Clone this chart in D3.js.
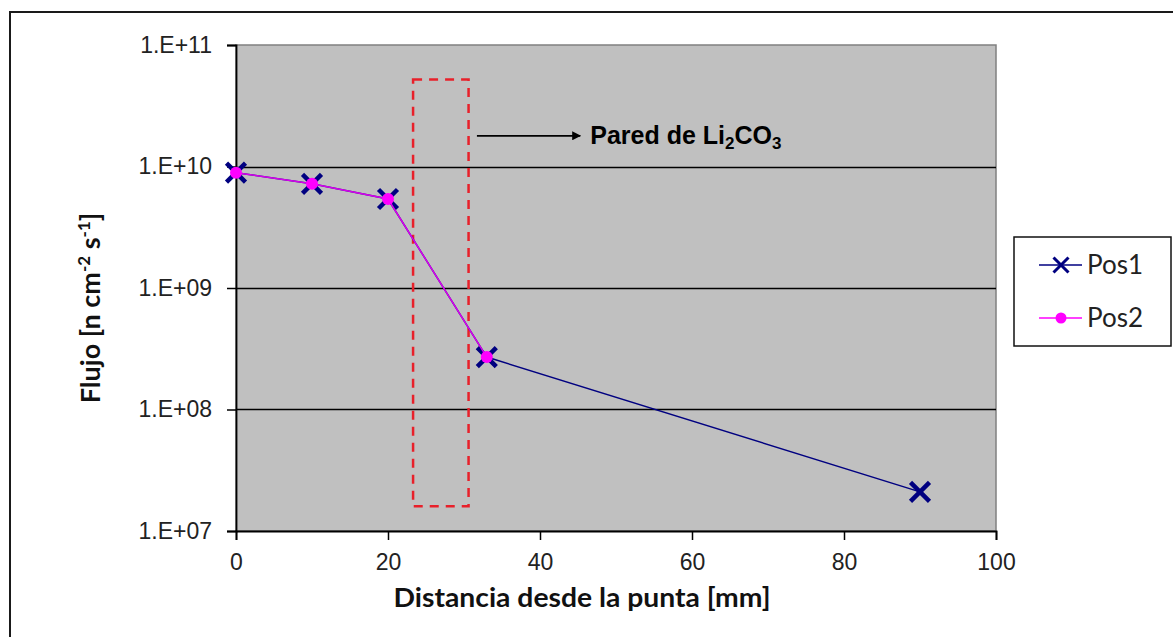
<!DOCTYPE html>
<html>
<head>
<meta charset="utf-8">
<script src="https://cdn.jsdelivr.net/npm/d3@7"></script>
<style>
  html, body { margin: 0; padding: 0; background: #fff; }
  svg { display: block; }
</style>
</head>
<body>
<svg id="chart" width="1173" height="637"></svg>
<script>
// ---- data ----
const xTicks = [0, 20, 40, 60, 80, 100];
const yTicks = [1e7, 1e8, 1e9, 1e10, 1e11];
const yTickLabels = ["1.E+07", "1.E+08", "1.E+09", "1.E+10", "1.E+11"];
const seriesNames = ["Pos1", "Pos2"];
const pos1X = [0, 10, 20, 33, 90];
const pos1Y = [8.9e9, 7.2e9, 5.4e9, 2.7e8, 2.1e7];
const pos2X = [0, 10, 20, 33];
const pos2Y = [8.9e9, 7.2e9, 5.4e9, 2.7e8];
// annotation (data units)
const wallX = [23.3, 30.6];
const wallY = [1.6e7, 5.2e10];
const arrowX = [31.7, 45.3];
const arrowY = 1.79e10;
const annotationText = "Pared de Li";

// ---- layout ----
const plot = { left: 236, right: 996, top: 45, bottom: 531 };
const svg = d3.select("#chart");

// outer chart border (extends past right/bottom edge)
svg.append("rect").attr("x", 10).attr("y", 12).attr("width", 1300).attr("height", 800)
  .attr("fill", "#fff").attr("stroke", "#1a1a1a").attr("stroke-width", 2);

const x = d3.scaleLinear().domain([0, 100]).range([plot.left, plot.right]);
const y = d3.scaleLog().domain([1e7, 1e11]).range([plot.bottom, plot.top]);

// plot area
svg.append("rect").attr("x", plot.left).attr("y", plot.top)
  .attr("width", plot.right - plot.left).attr("height", plot.bottom - plot.top)
  .attr("fill", "#c0c0c0").attr("stroke", "#808080").attr("stroke-width", 1.5);

// gridlines
svg.append("g").selectAll("line").data(yTicks.slice(1, -1)).join("line")
  .attr("x1", plot.left).attr("x2", plot.right)
  .attr("y1", d => Math.round(y(d)) + 0.5).attr("y2", d => Math.round(y(d)) + 0.5)
  .attr("stroke", "#000").attr("stroke-width", 1.3);

// axes
const fontTick = "'Liberation Sans', Arial, sans-serif";
const yAxis = svg.append("g").attr("transform", `translate(${plot.left},0)`)
  .call(d3.axisLeft(y).tickValues(yTicks).tickFormat((d, i) => yTickLabels[i]).tickSize(9).tickPadding(15));
const xAxis = svg.append("g").attr("transform", `translate(0,${plot.bottom})`)
  .call(d3.axisBottom(x).tickValues(xTicks).tickFormat(d3.format("d")).tickSize(9).tickPadding(14));
[yAxis, xAxis].forEach(g => {
  g.select(".domain").attr("stroke", "#000").attr("stroke-width", 1.8);
  g.selectAll(".tick line").attr("stroke", "#000").attr("stroke-width", 1.5);
  g.selectAll(".tick text").attr("fill", "#222").style("font-family", fontTick).style("font-size", "23px");
});

// red dashed wall rectangle
svg.append("rect")
  .attr("x", x(wallX[0])).attr("y", y(wallY[1]))
  .attr("width", x(wallX[1]) - x(wallX[0])).attr("height", y(wallY[0]) - y(wallY[1]))
  .attr("fill", "none").attr("stroke", "#e8202a").attr("stroke-width", 2.5)
  .attr("stroke-dasharray", "9,7");

// arrow
svg.append("defs").append("marker").attr("id", "arrowhead")
  .attr("viewBox", "0 0 10 10").attr("refX", 9).attr("refY", 5)
  .attr("markerWidth", 5).attr("markerHeight", 5).attr("orient", "auto")
  .append("path").attr("d", "M0,0 L10,5 L0,10 z").attr("fill", "#000");
svg.append("line")
  .attr("x1", x(arrowX[0])).attr("x2", x(arrowX[1]))
  .attr("y1", y(arrowY)).attr("y2", y(arrowY))
  .attr("stroke", "#000").attr("stroke-width", 1.8).attr("marker-end", "url(#arrowhead)");
const ann = svg.append("text")
  .attr("x", x(arrowX[1]) + 10).attr("y", y(arrowY) + 8)
  .style("font-family", "'Liberation Sans', Arial, sans-serif").style("font-weight", "bold")
  .style("font-size", "25px").attr("fill", "#000");
ann.append("tspan").text(annotationText);
ann.append("tspan").text("2").attr("dy", 5).style("font-size", "17px");
ann.append("tspan").text("CO").attr("dy", -5);
ann.append("tspan").text("3").attr("dy", 5).style("font-size", "17px");

// series lines
const line = d3.line().x(d => x(d[0])).y(d => y(d[1]));
const pos1 = pos1X.map((v, i) => [v, pos1Y[i]]);
const pos2 = pos2X.map((v, i) => [v, pos2Y[i]]);
const navy = "#000080", magenta = "#ff00ff";
svg.append("path").datum(pos1).attr("d", line).attr("fill", "none")
  .attr("stroke", navy).attr("stroke-width", 1.5);
const xMark = s => `M${-s},${-s}L${s},${s}M${-s},${s}L${s},${-s}`;
svg.append("g").selectAll("path").data(pos1).join("path")
  .attr("transform", d => `translate(${x(d[0])},${y(d[1])})`)
  .attr("d", xMark(9.5)).attr("stroke", navy).attr("stroke-width", 4.5).attr("fill", "none");
svg.append("path").datum(pos2).attr("d", line).attr("fill", "none")
  .attr("stroke", magenta).attr("stroke-width", 1.5).attr("opacity", 0.85);
svg.append("g").selectAll("circle").data(pos2).join("circle")
  .attr("cx", d => x(d[0])).attr("cy", d => y(d[1])).attr("r", 6).attr("fill", magenta);

// axis titles
svg.append("text").attr("x", 582).attr("y", 607).attr("text-anchor", "middle")
  .style("font-family", "Lato, 'Open Sans', sans-serif").style("font-weight", "bold")
  .style("font-size", "27px").attr("fill", "#111")
  .attr("textLength", 377).attr("lengthAdjust", "spacingAndGlyphs")
  .text("Distancia desde la punta [mm]");

const yt = svg.append("text").attr("transform", "translate(100,308) rotate(-90)")
  .attr("text-anchor", "middle")
  .style("font-family", "Lato, 'Open Sans', sans-serif").style("font-weight", "bold")
  .style("font-size", "27px").attr("fill", "#111");
yt.append("tspan").text("Flujo [n cm");
yt.append("tspan").text("-2").attr("dy", -10).style("font-size", "17px");
yt.append("tspan").text(" s").attr("dy", 10);
yt.append("tspan").text("-1").attr("dy", -10).style("font-size", "17px");
yt.append("tspan").text("]").attr("dy", 10);

// legend
const lg = svg.append("g");
lg.append("rect").attr("x", 1014).attr("y", 237).attr("width", 157).attr("height", 109)
  .attr("fill", "#fff").attr("stroke", "#111").attr("stroke-width", 1.5);
const rows = [265, 318];
seriesNames.forEach((name, i) => {
  const cy = rows[i];
  const col = i === 0 ? navy : magenta;
  lg.append("line").attr("x1", 1039).attr("x2", 1082).attr("y1", cy).attr("y2", cy)
    .attr("stroke", col).attr("stroke-width", 1.5);
  if (i === 0) {
    lg.append("path").attr("transform", `translate(1061,${cy})`).attr("d", xMark(7.5))
      .attr("stroke", navy).attr("stroke-width", 3).attr("fill", "none");
  } else {
    lg.append("circle").attr("cx", 1061).attr("cy", cy).attr("r", 5.5).attr("fill", magenta);
  }
  lg.append("text").attr("x", 1087).attr("y", cy + 9)
    .style("font-family", "Lato, 'Open Sans', sans-serif").style("font-size", "26px")
    .attr("fill", "#222").text(name);
});
</script>
</body>
</html>
